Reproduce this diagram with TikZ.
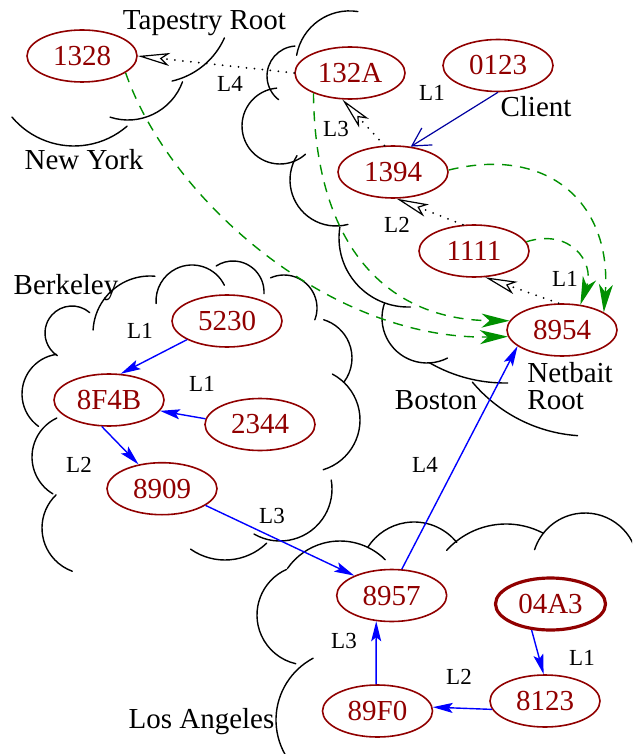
\documentclass[tikz,border=0pt]{standalone}
\usepackage{fontspec}
\setmainfont{Liberation Serif}
\usetikzlibrary{arrows.meta,shapes.geometric}
\definecolor{peerred}{RGB}{144,0,0}
\definecolor{linkgreen}{RGB}{0,144,0}
\definecolor{clientblue}{RGB}{0,0,160}

\begin{document}
\begin{tikzpicture}[x=0.5pt, y=0.5pt, line join=round,
		peer/.style={ellipse, draw=peerred, text=peerred, line width=0.8pt,
			minimum width=55pt, minimum height=26pt, inner sep=0pt,
			font=\fontsize{14.5}{17}\selectfont},
		place/.style={anchor=base, inner sep=0pt, font=\fontsize{14.5}{17}\selectfont},
		hop/.style={inner sep=0pt, font=\fontsize{11.5}{13}\selectfont},
		cloud/.style={line width=0.7pt, line cap=round},
		probe/.style={line width=1pt, line cap=round, dash pattern=on 0pt off 4pt,
			-{Stealth[open, length=16pt, width=6.5pt, inset=4pt, line width=0.6pt]}},
		query/.style={clientblue, line width=0.6pt,
			-{Straight Barb[length=9pt, width=10pt]}},
		route/.style={blue, line width=0.7pt, -{Stealth[length=10pt, width=5pt, inset=2pt]}},
		publish/.style={linkgreen, line width=0.7pt, dash pattern=on 5pt off 4pt,
			-{Stealth[length=14pt, width=7pt, inset=4pt]}}]
	% Bounding box (pixel grid of the figure, y downwards)
	\useasboundingbox (0,0) rectangle (632,-754);
	\clip (0,0) rectangle (632,-754);
	
	% Clouds: centre x / centre y / radius / start / end
	\foreach \cx/\cy/\rad/\sa/\sb in {
		74/65/81/220/311, 128/62/58/252/340, 155/7/76/283/336,% New York
		349.5/64.6/53.7/81/170, 297/76/30/94/232, 280/126/38/95/312,
		336/180/46/148/285, 408/238/69/171/272, 427/318/45/161/297,
		505/232/151/240/271, 588/285/151/220/266,% Boston
		150/333/57/85/177, 192/301/36/26/184, 233/292/31/-3/123,
		284/308/33/-21/114, 312/358/40/-37/73, 308/420/52/-73/62,
		280/489/52/-120/10, 72/333/27/49/237, 62/394/40/98/234,
		75/457/43/115/239, 88/528/46/134/250, 225/500/60/-125/-46,% Berkeley
		340/605/64/45/145, 414/577/55/39/147, 506/604/80/62/138,
		585/566/53/10/162, 307/615/50/114/257, 346/720/70/118/210% Los Angeles
	} {
		\draw[cloud] (\cx,-\cy) ++(\sa:\rad) arc (\sa:\sb:\rad);
	}
	
	% Place names
	\node[place] (tapestry) at (204.5,-30) {Tapestry Root};
	\node[place] (newyork) at (84,-170) {New York};
	\node[place] (client) at (536,-117) {Client};
	\node[place] (boston) at (436,-409) {Boston};
	\node[place, anchor=base west] (netbait) at (527,-382) {Netbait};
	\node[place, anchor=base west] (netroot) at (527,-409) {Root};
	\node[place] (berkeley) at (66,-294) {Berkeley};
	\node[place] (losangeles) at (201.5,-728) {Los Angeles};
	
	% Peers
	\node[peer] (n1328) at (82,-56) {1328};
	\node[peer] (n132A) at (350,-73) {132A};
	\node[peer] (n0123) at (498,-65.5) {0123};
	\node[peer] (n1394) at (393,-172) {1394};
	\node[peer] (n1111) at (474,-251) {1111};
	\node[peer] (n8954) at (562,-330) {8954};
	\node[peer] (n5230) at (227,-321) {5230};
	\node[peer] (n8F4B) at (109,-400) {8F4B};
	\node[peer] (n2344) at (260,-424.5) {2344};
	\node[peer] (n8909) at (162,-488.7) {8909};
	\node[peer] (n8957) at (391.7,-595.5) {8957};
	\node[peer, line width=1.6pt] (n04A3) at (550.5,-604) {04A3};
	\node[peer] (n8123) at (545,-701) {8123};
	\node[peer] (n89F0) at (377.5,-711) {89F0};
	
	% Location pointers (dotted)
	\draw[probe] (n132A.180) -- (n1328.0);
	\draw[probe] (n1394.108) -- (n132A.254);
	\draw[probe] (n1111.113) -- (n1394.278);
	\draw[probe] (n8954.97) -- (n1111.293);
	
	% Client query
	\draw[query] (n0123.270) -- (n1394.55);
	
	% Routes towards the roots
	\draw[route] (n5230.205) -- (n8F4B.66);
	\draw[route] (n2344.174) -- (n8F4B.-12);
	\draw[route] (n8F4B.255) -- (n8909.134);
	\draw[route] (n8909.-21) -- (n8957.152);
	\draw[route] (n8957.69) -- (n8954.200);
	\draw[route] (n89F0.93) -- (n8957.239);
	\draw[route] (n04A3.234) -- (n8123.93);
	\draw[route] (n8123.189) -- (n89F0.4);
	
	% Publish paths (dashed)
	\draw[publish] (n1328.-21) .. controls (170,-200) and (330,-340) .. (n8954.187);
	\draw[publish] (n132A.209) .. controls (315,-250) and (390,-320) .. (n8954.170);
	\draw[publish] (n1394.2) .. controls (550,-145) and (612,-205) .. (n8954.23);
	\draw[publish] (n1111.10) .. controls (570,-228) and (595,-262) .. (n8954.54);
	
	% Hop labels
	\node[hop] (h1) at (230,-84) {L4};
	\node[hop] (h2) at (432,-93) {L1};
	\node[hop] (h3) at (336,-129) {L3};
	\node[hop] (h4) at (397,-225) {L2};
	\node[hop] (h5) at (565,-279) {L1};
	\node[hop] (h6) at (140,-331) {L1};
	\node[hop] (h7) at (202,-384) {L1};
	\node[hop] (h8) at (79,-465) {L2};
	\node[hop] (h9) at (272,-516) {L3};
	\node[hop] (h10) at (425,-465) {L4};
	\node[hop] (h11) at (344,-641) {L3};
	\node[hop] (h12) at (459,-677) {L2};
	\node[hop] (h13) at (582,-658) {L1};
\end{tikzpicture}
\end{document}
